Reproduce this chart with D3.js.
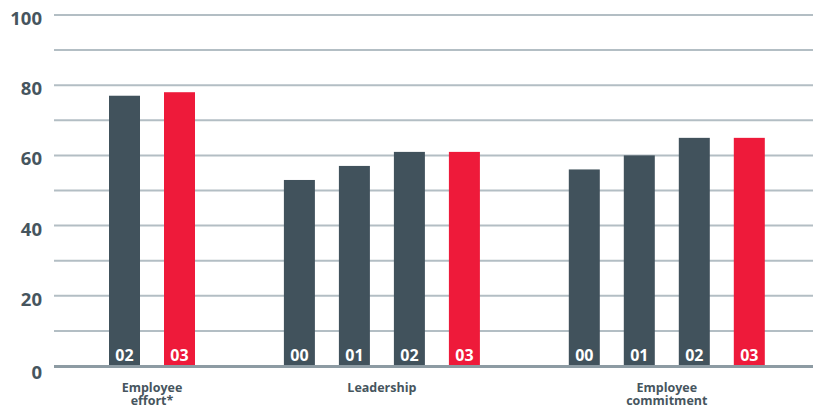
<!DOCTYPE html>
<html>
<head>
<meta charset="utf-8">
<script src="https://cdn.jsdelivr.net/npm/d3@7"></script>
<style>
  html, body { margin: 0; padding: 0; background: #ffffff; }
  svg { display: block; }
  text { font-family: "Open Sans", "DejaVu Sans", sans-serif; font-weight: 700; }
</style>
</head>
<body>
<svg id="chart" width="813" height="408"></svg>
<script>
// Survey scores by category and year
const categories = ["Employee effort*", "Leadership", "Employee commitment"];
const categoryLines = [["Employee", "effort*"], ["Leadership"], ["Employee", "commitment"]];
const years = [["02", "03"], ["00", "01", "02", "03"], ["00", "01", "02", "03"]];
const values = [[77, 78], [53, 57, 61, 61], [56, 60, 65, 65]];
const gridTicks = [0, 10, 20, 30, 40, 50, 60, 70, 80, 90, 100];
const labelTicks = [0, 20, 40, 60, 80, 100];

const W = 813, H = 408;
const plot = { left: 54, right: 813, top: 15, bottom: 366 };
const barWidth = 31;
const groupGap = 1.18;           // extra slots of space between groups
const colorPast = "#41525c";
const colorCurrent = "#ee1a3a";
const textColor = "#46555e";

// Flatten into bars with a slot index along the x axis
const bars = [];
let slot = 0;
categories.forEach((c, gi) => {
  if (gi > 0) slot += groupGap;
  values[gi].forEach((v, bi) => {
    bars.push({ group: gi, year: years[gi][bi], value: v, slot: slot,
                current: bi === values[gi].length - 1 });
    slot += 1;
  });
});

const y = d3.scaleLinear().domain([0, 100]).range([plot.bottom, plot.top]);
const x = d3.scaleLinear().domain([0, 1]).range([109, 164]);

const svg = d3.select("#chart");

// Horizontal grid
svg.append("g").selectAll("line")
  .data(gridTicks.filter(t => t !== 0))
  .join("line")
  .attr("x1", plot.left).attr("x2", plot.right)
  .attr("y1", d => y(d)).attr("y2", d => y(d))
  .attr("stroke", "#b3bec4").attr("stroke-width", 2);

// Y tick labels
svg.append("g").selectAll("text")
  .data(labelTicks)
  .join("text")
  .attr("x", 42)
  .attr("y", d => y(d) + 5 + (d === 0 ? 3 : 0))
  .attr("text-anchor", "end")
  .attr("dominant-baseline", "middle")
  .attr("font-size", 18.5)
  .attr("fill", textColor)
  .text(d => d);

// Bars
svg.append("g").selectAll("rect")
  .data(bars)
  .join("rect")
  .attr("x", d => x(d.slot))
  .attr("width", barWidth)
  .attr("y", d => y(d.value))
  .attr("height", d => y(0) - y(d.value))
  .attr("fill", d => d.current ? colorCurrent : colorPast);

// Year labels inside bars
svg.append("g").selectAll("text")
  .data(bars)
  .join("text")
  .attr("x", d => x(d.slot) + barWidth / 2)
  .attr("y", y(0) - 5)
  .attr("text-anchor", "middle")
  .attr("font-size", 16)
  .attr("fill", "#ffffff")
  .text(d => d.year);

// Baseline
svg.append("line")
  .attr("x1", plot.left).attr("x2", plot.right)
  .attr("y1", y(0) + 0.5).attr("y2", y(0) + 0.5)
  .attr("stroke", "#8d9ba3").attr("stroke-width", 3);

// Category labels centred under each group, one text per line
const groupCenters = categories.map((c, gi) => {
  const gb = bars.filter(b => b.group === gi);
  return (x(gb[0].slot) + x(gb[gb.length - 1].slot) + barWidth) / 2;
});
const catLines = [];
categoryLines.forEach((lines, gi) => {
  lines.forEach((t, li) => catLines.push({ text: t, gi: gi, li: li }));
});
svg.append("g").selectAll("text")
  .data(catLines)
  .join("text")
  .attr("x", d => groupCenters[d.gi])
  .attr("y", d => 391.5 + d.li * 13)
  .attr("text-anchor", "middle")
  .attr("font-size", 12.5)
  .attr("fill", textColor)
  .text(d => d.text);
</script>
</body>
</html>
